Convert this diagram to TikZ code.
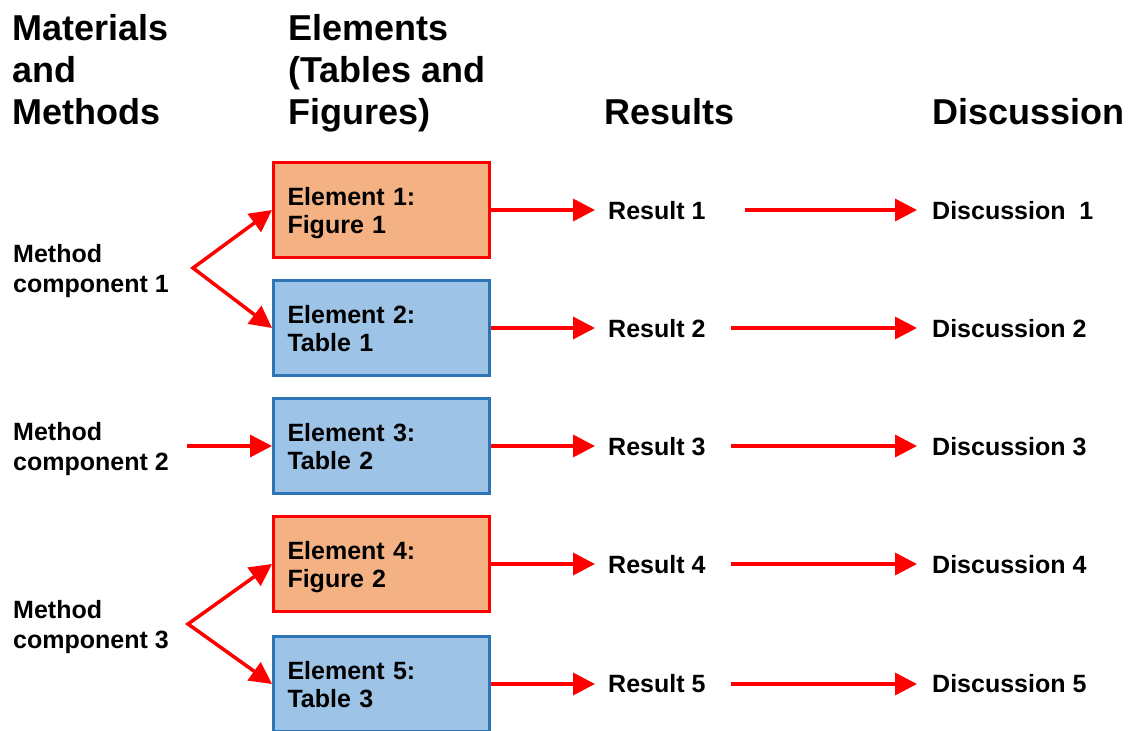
\documentclass[tikz,border=0pt]{standalone}
\usepackage{fontspec}
\setmainfont{Liberation Sans}
\usetikzlibrary{arrows.meta,calc}
\definecolor{figfill}{HTML}{F4B183}
\definecolor{tabfill}{HTML}{9DC3E6}
\definecolor{tabline}{HTML}{2E75B6}
\definecolor{arrred}{HTML}{FF0000}
\begin{document}
\begin{tikzpicture}[x=1pt,y=-1pt,
  hdr/.style={anchor=base west,inner sep=0pt,align=left,font=\fontsize{36}{42}\selectfont\bfseries},
  lbl/.style={anchor=base west,inner sep=0pt,align=left,font=\fontsize{25}{30}\selectfont\bfseries},
  elem/.style={draw,line width=3pt,minimum width=216pt,minimum height=95pt,inner xsep=14pt,inner ysep=0pt,
    text width=188pt,text height=23pt,text depth=33pt,align=left,font=\fontsize{25}{28}\selectfont\bfseries},
  figbox/.style={elem,draw=arrred,fill=figfill},
  tabbox/.style={elem,draw=tabline,fill=tabfill},
  res/.style={anchor=base west,inner xsep=13pt,inner ysep=0pt,font=\fontsize{25}{30}\selectfont\bfseries},
  disc/.style={anchor=base west,inner xsep=15pt,inner ysep=0pt,font=\fontsize{25}{30}\selectfont\bfseries},
  tip/.tip={Triangle[length=22pt,width=22pt]},
  arr/.style={draw=arrred,line width=3.5pt,-tip},
  arrtwo/.style={draw=arrred,line width=3.5pt,tip-tip}]
\clip (0,0) rectangle (1136,731);

% headers
\node[hdr] (hm) at (12,124) {Materials\\and\\Methods};
\node[hdr] (he) at (288,124) {Elements\\(Tables and\\Figures)};
\node[hdr] (hr) at (604,124) {Results};
\node[hdr] (hd) at (932,124) {Discussion};

% method labels
\node[lbl] (m1) at (13,292) {Method\\component 1};
\node[lbl] (m2) at (13,470) {Method\\component 2};
\node[lbl] (m3) at (13,648) {Method\\component 3};

% element boxes
\node[figbox] (b1) at (381.5,210) {Element 1:\\Figure 1};
\node[tabbox] (b2) at (381.5,328) {Element 2:\\Table 1};
\node[tabbox] (b3) at (381.5,446) {Element 3:\\Table 2};
\node[figbox] (b4) at (381.5,564) {Element 4:\\Figure 2};
\node[tabbox] (b5) at (381.5,684) {Element 5:\\Table 3};

% results
\node[res] (r1) at (595,219) {Result 1};
\node[res] (r2) at (595,337) {Result 2};
\node[res] (r3) at (595,455) {Result 3};
\node[res] (r4) at (595,573) {Result 4};
\node[res] (r5) at (595,692) {Result 5};

% discussions
\node[disc] (d1) at (917,219) {Discussion\ \ 1};
\node[disc] (d2) at (917,337) {Discussion 2};
\node[disc] (d3) at (917,455) {Discussion 3};
\node[disc] (d4) at (917,573) {Discussion 4};
\node[disc] (d5) at (917,692) {Discussion 5};

% method connectors
\coordinate (a1) at (193,268);
\coordinate (a2) at (187,446);
\coordinate (a3) at (188,624);
\draw[arrtwo] (b1.west) -- (a1) -- (b2.west);
\draw[arr] (a2) -- (b3.west);
\draw[arrtwo] (b4.west) -- (a3) -- (b5.west);

% element -> result
\foreach \i in {1,...,5}{
  \draw[arr] (b\i.east) -- (b\i.east -| r\i.west);
}
% result -> discussion
\draw[arr] ($(r1.east |- b1.east)+(26pt,0)$) -- (d1.west |- b1.east);
\foreach \i in {2,...,5}{
  \draw[arr] ($(r\i.east |- b\i.east)+(12pt,0)$) -- (d\i.west |- b\i.east);
}
\end{tikzpicture}
\end{document}
